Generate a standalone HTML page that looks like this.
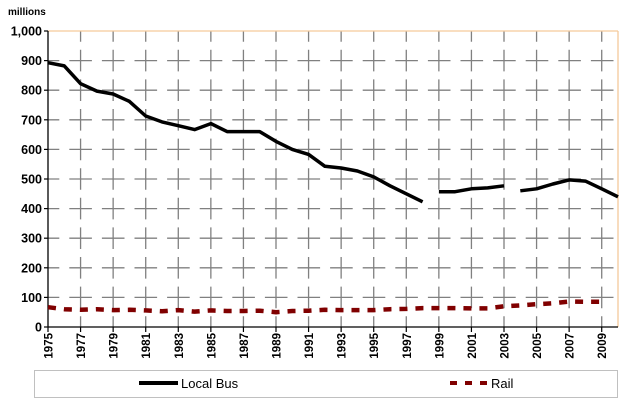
<!DOCTYPE html>
<html><head><meta charset="utf-8"><style>
body{margin:0;background:#fff;}
svg{display:block;font-family:"Liberation Sans",Arial,sans-serif;}
</style></head><body>
<svg width="628" height="407" viewBox="0 0 628 407" xmlns="http://www.w3.org/2000/svg">
<rect width="628" height="407" fill="#fff"/>
<text x="8" y="15" font-size="10" font-weight="bold" fill="#000">millions</text>
<g id="grid" stroke="#808080" stroke-width="1.3" fill="none"></g>
<g id="ylab" font-size="12.5" font-weight="bold" fill="#000" text-anchor="end"></g>
<g id="xlab" font-size="11.5" font-weight="bold" fill="#000" text-anchor="end"></g>
<line x1="48" y1="31" x2="618" y2="31" stroke="#f5c99b" stroke-width="1.3"/>
<line x1="618" y1="31" x2="618" y2="327" stroke="#f5c99b" stroke-width="1.3"/>
<line x1="48" y1="31" x2="48" y2="327" stroke="#000" stroke-width="1.3"/>
<line x1="48" y1="327" x2="618" y2="327" stroke="#000" stroke-width="1.3"/>
<g id="ticks" stroke="#000" stroke-width="1.2"></g>
<g id="series" fill="none" stroke-linejoin="round"></g>
<rect x="34.5" y="370.5" width="583" height="27" fill="#fff" stroke="#c0c0c0" stroke-width="1"/>
<line x1="139" y1="383" x2="178" y2="383" stroke="#000" stroke-width="4"/>
<text x="181" y="388" font-size="13" fill="#000">Local Bus</text>
<line x1="450" y1="383" x2="488" y2="383" stroke="#800000" stroke-width="4" stroke-dasharray="7 8"/>
<text x="491" y="388" font-size="13" fill="#000">Rail</text>
</svg>
<script>
const NS="http://www.w3.org/2000/svg";
function el(t,a,p){const e=document.createElementNS(NS,t);for(const k in a)e.setAttribute(k,a[k]);document.getElementById(p).appendChild(e);return e;}
const X=y=>48+(y-1975)*(570/35), Y=v=>327-v*0.296;
for(let v=100;v<1000;v+=100){el('line',{x1:48,y1:Y(v),x2:618,y2:Y(v),'stroke-dasharray':'22.6 10','stroke-dashoffset':'11.3'},'grid');}
for(let yr=1977;yr<=2009;yr+=2){el('line',{x1:X(yr),y1:31,x2:X(yr),y2:327,'stroke-dasharray':'10.8 8 10.8 0','stroke-dashoffset':'0'},'grid');}
for(let v=0;v<=1000;v+=100){const t=el('text',{x:42,y:Y(v)+4.5},'ylab');t.textContent=v==1000?'1,000':v;el('line',{x1:44,y1:Y(v),x2:48,y2:Y(v)},'ticks');}
for(let yr=1975;yr<=2009;yr+=2){const x=X(yr);const t=el('text',{x:0,y:0,transform:`translate(${x+4.5},333) rotate(-90)`},'xlab');t.textContent=yr;el('line',{x1:x,y1:327,x2:x,y2:332},'ticks');}
const bus=[[1975,893],[1976,882],[1977,822],[1978,797],[1979,787],[1980,762],[1981,713],[1982,693],[1983,680],[1984,667],[1985,687],[1986,660],[1987,660],[1988,660],[1989,627],[1990,600],[1991,583],[1992,543],[1993,537],[1994,527],[1995,507],[1996,477],[1997,450],[1998,423]];
const bus2=[[1999,457],[2000,457],[2001,467],[2002,470],[2003,477]];
const bus3=[[2004,460],[2005,467],[2006,483],[2007,497],[2008,493],[2009,467],[2010,440]];
const rail=[[1975,67],[1976,60],[1977,58],[1978,60],[1979,57],[1980,58],[1981,56],[1982,53],[1983,57],[1984,52],[1985,56],[1986,54],[1987,54],[1988,55],[1989,50],[1990,54],[1991,55],[1992,58],[1993,57],[1994,57],[1995,57],[1996,60],[1997,61],[1998,64],[1999,64],[2000,64],[2001,63],[2002,63],[2003,70],[2004,73],[2005,77],[2006,80],[2007,86],[2008,85],[2009,85]];
const pts=a=>a.map(p=>X(p[0]).toFixed(1)+','+Y(p[1]).toFixed(1)).join(' ');
el('polyline',{points:pts(rail),stroke:'#800000','stroke-width':4.5,'stroke-dasharray':'8 8'},'series');
[bus,bus2,bus3].forEach(b=>el('polyline',{points:pts(b),stroke:'#000','stroke-width':3.5},'series'));
</script>
</body></html>
